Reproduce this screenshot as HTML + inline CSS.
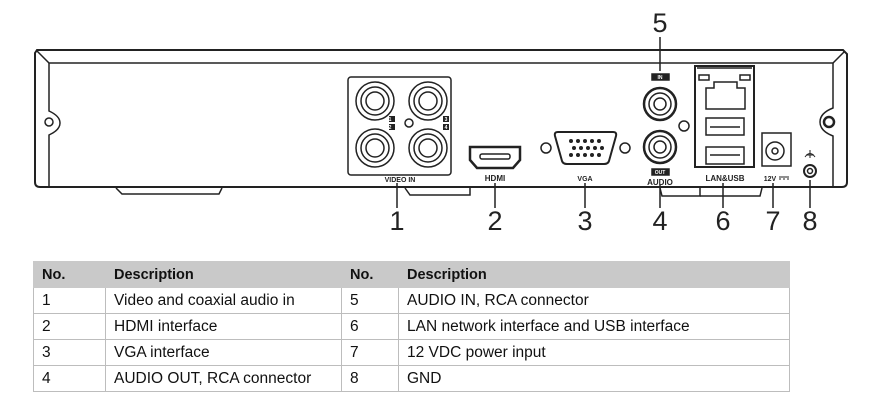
<!DOCTYPE html>
<html><head><style>
body{margin:0;background:#fff;width:877px;height:404px;overflow:hidden;position:relative;font-family:"Liberation Sans",sans-serif}
svg{position:absolute;left:0;top:0}
table{position:absolute;left:33px;top:261px;border-collapse:collapse;font-family:"Liberation Sans",sans-serif;font-size:15.5px;color:#111}
td{border:1px solid #bdbdbd;height:26px;padding:0 0 0 8px;box-sizing:border-box;white-space:nowrap}
tr.h td{background:#c9c9c9;font-weight:bold;border-color:#c9c9c9;font-size:14.5px}
</style></head><body>
<svg width="877" height="260" viewBox="0 0 877 260" fill="none" stroke="#222" stroke-width="1.5">
<path d="M37 50 L843 50 L847 54 L847 182 Q847 187 842 187 L40 187 Q35 187 35 182 L35 53 Z" stroke-width="2"/>
<path d="M37 51 L49 63 L833 63 L845 51"/>
<path d="M49 63 L49 111 Q60 116 60 123 Q60 130 49 135 L49 186"/>
<path d="M833 63 L833 108 Q820 113 820 122 Q820 131 833 136 L833 186"/>
<circle cx="49" cy="122" r="4"/>
<circle cx="829" cy="122" r="5" stroke-width="2.5"/>
<path d="M116 188 L122 194 L219 194 L222 188"/>
<path d="M405 188 L410 195 L470 195 L470 188"/>
<path d="M660 188 L662 196 L700 196 L700 188"/>
<path d="M700 196 L760 196 L762 188"/>
<rect x="348" y="77" width="103" height="98" rx="3"/>
<g>
<circle cx="375" cy="101" r="19"/><circle cx="375" cy="101" r="14"/><circle cx="375" cy="101" r="9"/>
<circle cx="428" cy="101" r="19"/><circle cx="428" cy="101" r="14"/><circle cx="428" cy="101" r="9"/>
<circle cx="375" cy="148" r="19"/><circle cx="375" cy="148" r="14"/><circle cx="375" cy="148" r="9"/>
<circle cx="428" cy="148" r="19"/><circle cx="428" cy="148" r="14"/><circle cx="428" cy="148" r="9"/>
<circle cx="409" cy="123" r="4"/>
</g>
<g fill="#222" stroke="none"><rect x="389" y="116" width="6" height="6"/><rect x="389" y="124" width="6" height="6"/><rect x="443" y="116" width="6" height="6"/><rect x="443" y="124" width="6" height="6"/></g>
<path d="M470 147 L520 147 L520 160 L513 168 L477 168 L470 160 Z" stroke-width="2.5"/>
<rect x="480" y="154" width="30" height="5" rx="2"/>
<circle cx="546" cy="148" r="5"/><circle cx="625" cy="148" r="5"/>
<path d="M558 132 L613 132 Q617 132 616 136 L609 161 Q608 164 604 164 L567 164 Q563 164 562 161 L555 136 Q554 132 558 132 Z" stroke-width="2"/>
<g fill="#222" stroke="none">
<circle cx="571" cy="141" r="2"/><circle cx="578" cy="141" r="2"/><circle cx="585" cy="141" r="2"/><circle cx="592" cy="141" r="2"/><circle cx="599" cy="141" r="2"/>
<circle cx="574" cy="148" r="2"/><circle cx="581" cy="148" r="2"/><circle cx="588" cy="148" r="2"/><circle cx="595" cy="148" r="2"/><circle cx="602" cy="148" r="2"/>
<circle cx="571" cy="155" r="2"/><circle cx="578" cy="155" r="2"/><circle cx="585" cy="155" r="2"/><circle cx="592" cy="155" r="2"/><circle cx="599" cy="155" r="2"/>
</g>
<circle cx="660" cy="104" r="16" stroke-width="2.5"/><circle cx="660" cy="104" r="11"/><circle cx="660" cy="104" r="6"/>
<circle cx="660" cy="147" r="16" stroke-width="2.5"/><circle cx="660" cy="147" r="11"/><circle cx="660" cy="147" r="6"/>
<circle cx="684" cy="126" r="5"/>
<rect x="652" y="74" width="17" height="6" fill="#222"/>
<rect x="652" y="169" width="17" height="6" fill="#222"/>
<rect x="695" y="66" width="59" height="101" stroke-width="2"/>
<path d="M697 68 L752 68"/>
<rect x="699" y="75" width="10" height="5"/><rect x="740" y="75" width="10" height="5"/>
<path d="M706 109 L745 109 L745 88 L737 88 L737 82 L714 82 L714 88 L706 88 Z"/>
<rect x="706" y="118" width="38" height="17"/><rect x="706" y="147" width="38" height="17"/>
<path d="M710 127 L740 127 M710 155 L740 155"/>
<rect x="762" y="133" width="29" height="33"/>
<circle cx="775" cy="151" r="9"/><circle cx="775" cy="151" r="3"/>
<circle cx="810" cy="171" r="6" stroke-width="2"/><circle cx="810" cy="171" r="2.5"/>
<path d="M805 157 Q810 150 815 157 M810 150 L810 158 M806 155 L814 155" stroke-width="1"/>
<path d="M397 183 L397 208 M495 183 L495 208 M585 183 L585 208 M660 185 L660 208 M660 37 L660 71 M723 183 L723 208 M773 183 L773 208 M810 180 L810 208"/>
<g fill="#222" stroke="none" font-family="Liberation Sans, sans-serif" font-weight="bold" font-size="7" text-anchor="middle">
<text x="400" y="182">VIDEO IN</text>
<text x="495" y="181" font-size="8">HDMI</text>
<text x="585" y="181">VGA</text>
<text x="660" y="185" font-size="8">AUDIO</text>
<text x="725" y="181" font-size="8">LAN&amp;USB</text>
<text x="770" y="181">12V</text>
<text x="390" y="121" fill="#fff" font-size="5">1</text><text x="390" y="129" fill="#fff" font-size="5">2</text>
<text x="446" y="121" fill="#fff" font-size="5">3</text><text x="446" y="129" fill="#fff" font-size="5">4</text>
<text x="660" y="79" fill="#fff" font-size="5">IN</text><text x="660" y="174" fill="#fff" font-size="5">OUT</text>
</g>
<path d="M779 177 L789 177 M779 179 L781 179 M783 179 L785 179 M787 179 L789 179" stroke-width="1"/>
<g fill="#222" stroke="none" font-family="Liberation Sans, sans-serif" font-size="27" text-anchor="middle">
<text x="397" y="230">1</text><text x="495" y="230">2</text><text x="585" y="230">3</text><text x="660" y="230">4</text>
<text x="660" y="32">5</text><text x="723" y="230">6</text><text x="773" y="230">7</text><text x="810" y="230">8</text>
</g>
</svg>
<table>
<tr class="h"><td style="width:72px">No.</td><td style="width:236px">Description</td><td style="width:57px">No.</td><td style="width:391px">Description</td></tr>
<tr><td>1</td><td>Video and coaxial audio in</td><td>5</td><td>AUDIO IN, RCA connector</td></tr>
<tr><td>2</td><td>HDMI interface</td><td>6</td><td>LAN network interface and USB interface</td></tr>
<tr><td>3</td><td>VGA interface</td><td>7</td><td>12 VDC power input</td></tr>
<tr><td>4</td><td>AUDIO OUT, RCA connector</td><td>8</td><td>GND</td></tr>
</table>
</body></html>
